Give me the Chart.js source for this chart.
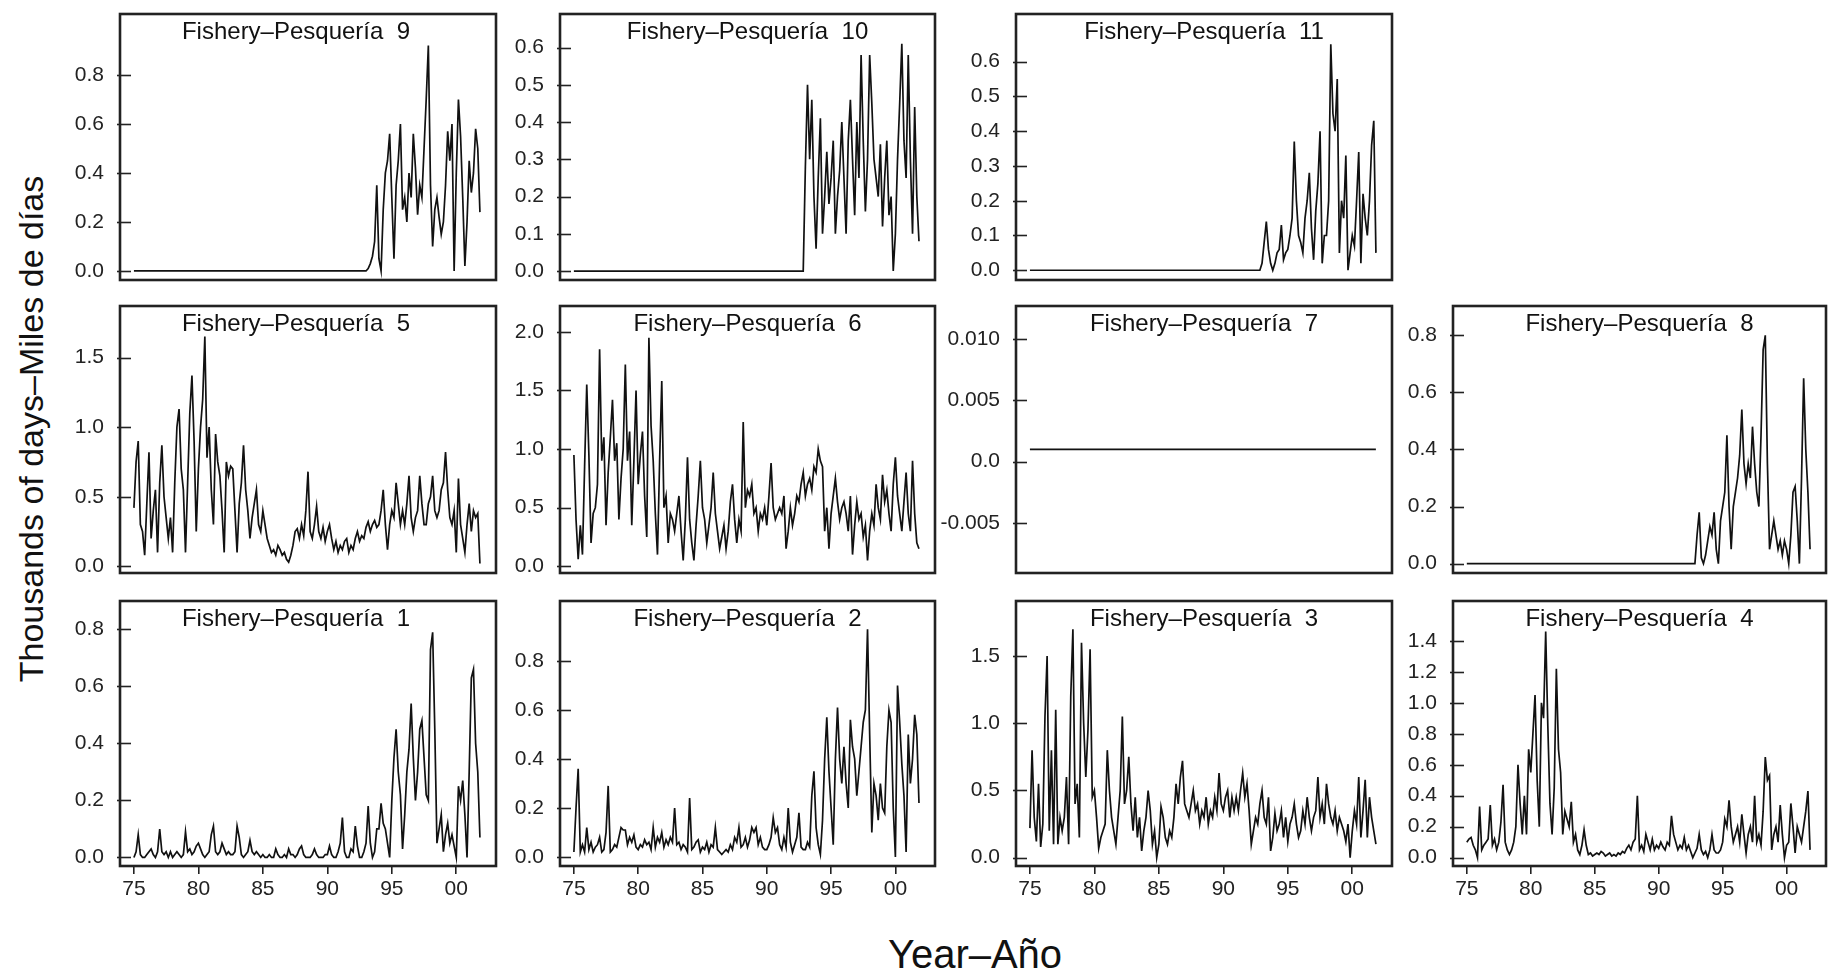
<!DOCTYPE html>
<html>
<head>
<meta charset="utf-8">
<script src="https://cdn.jsdelivr.net/npm/chart.js@4.4.1/dist/chart.umd.min.js"></script>
<style>
  html, body { margin: 0; padding: 0; background: #fff; }
  body { width: 1828px; height: 969px; position: relative; overflow: hidden;
         font-family: "Liberation Sans", Arial, Helvetica, sans-serif; }
  canvas { position: absolute; }
  .ptitle { position: absolute; font-size: 24px; line-height: 24px; color: #111;
            text-align: center; white-space: pre; }
  #xlab { position: absolute; left: 775px; top: 934px; width: 400px; text-align: center;
          font-size: 40px; line-height: 40px; color: #111; }
  #ylab { position: absolute; left: -319px; top: 411px; width: 700px; height: 36px;
          text-align: center; font-size: 34px; line-height: 36px; color: #111;
          transform: rotate(-90deg); white-space: nowrap; }
</style>
</head>
<body>
<div id="xlab">Year–Año</div>
<div id="ylab">Thousands of days–Miles de días</div>
<script>
// years on the axis are written 75..102 (2000 = 100, shown as "00")
const yearStart = 75;
const perYear = 6;               // one value every two months
const xTicks = [75, 80, 85, 90, 95, 100];

// Fishery 1, 1975-2001
const f1 = [
  0, 0.02, 0.08, 0.01, 0, 0,
  0.01, 0.02, 0.03, 0.01, 0, 0.02,
  0.10, 0.02, 0.01, 0.02, 0, 0.02,
  0, 0.01, 0.02, 0.01, 0, 0.01,
  0.09, 0.02, 0.03, 0.01, 0.02, 0.04,
  0.05, 0.03, 0.01, 0, 0.01, 0.02,
  0.08, 0.11, 0.02, 0.01, 0.02, 0.05,
  0.03, 0.01, 0.02, 0.01, 0.01, 0.02,
  0.11, 0.07, 0.01, 0, 0.01, 0.02,
  0.06, 0.02, 0.01, 0.02, 0.01, 0,
  0.01, 0, 0, 0.01, 0, 0,
  0.03, 0.01, 0, 0, 0.01, 0,
  0.03, 0.01, 0.01, 0, 0.01, 0.03,
  0.04, 0.01, 0, 0, 0, 0.01,
  0.03, 0.01, 0, 0, 0, 0.01,
  0.01, 0.04, 0.01, 0, 0, 0.02,
  0.05, 0.14, 0.02, 0, 0, 0.03,
  0.02, 0.11, 0.04, 0, 0, 0.02,
  0.05, 0.18, 0.05, 0, 0.02, 0.10,
  0.10, 0.19, 0.12, 0.10, 0.05, 0,
  0.20, 0.35, 0.45, 0.30, 0.22, 0.03,
  0.15, 0.30, 0.38, 0.54, 0.35, 0.20,
  0.30, 0.45, 0.48, 0.35, 0.22, 0.20,
  0.73, 0.79, 0.45, 0.05, 0.10, 0.15,
  0.02, 0.08, 0.12, 0.05, 0.08, 0.04,
  0, 0.25, 0.20, 0.27, 0.15, 0,
  0.30, 0.63, 0.66, 0.40, 0.30, 0.07
];

// Fishery 2, 1975-2001
const f2 = [
  0.02, 0.20, 0.36, 0.02, 0.05, 0.02,
  0.12, 0.03, 0.06, 0.02, 0.04, 0.05,
  0.08, 0.02, 0.03, 0.10, 0.29, 0.02,
  0.03, 0.05, 0.04, 0.08, 0.12, 0.11,
  0.11, 0.05, 0.08, 0.06, 0.09, 0.04,
  0.03, 0.05, 0.04, 0.07, 0.05, 0.06,
  0.03, 0.12, 0.04, 0.08, 0.06, 0.10,
  0.04, 0.07, 0.05, 0.08, 0.06, 0.20,
  0.05, 0.06, 0.03, 0.05, 0.04, 0.02,
  0.24, 0.03, 0.04, 0.06, 0.07, 0.02,
  0.04, 0.03, 0.06, 0.02, 0.05, 0.04,
  0.12, 0.03, 0.02, 0.01, 0.02, 0.03,
  0.02, 0.05, 0.03, 0.08, 0.06, 0.12,
  0.04, 0.05, 0.08, 0.04, 0.07, 0.12,
  0.10, 0.12, 0.05, 0.08, 0.04, 0.03,
  0.03, 0.05, 0.08, 0.16, 0.10, 0.12,
  0.05, 0.03, 0.08, 0.04, 0.20, 0.06,
  0.02, 0.05, 0.08, 0.18, 0.04, 0.03,
  0.03, 0.06, 0.04, 0.25, 0.35, 0.12,
  0.05, 0.01, 0.15, 0.40, 0.57, 0.35,
  0.20, 0.05, 0.40, 0.61, 0.40, 0.30,
  0.45, 0.30, 0.20, 0.56, 0.45, 0.40,
  0.25, 0.35, 0.45, 0.55, 0.60, 0.93,
  0.50, 0.10, 0.30, 0.25, 0.15, 0.30,
  0.20, 0.18, 0.45, 0.60, 0.55, 0.20,
  0, 0.70, 0.55, 0.38, 0.25, 0.02,
  0.50, 0.30, 0.40, 0.58, 0.50, 0.22
];

// Fishery 3, 1975-2001
const f3 = [
  0.22, 0.80, 0.30, 0.12, 0.55, 0.08,
  0.25, 1.05, 1.50, 0.20, 0.80, 0.10,
  1.10, 0.10, 0.30, 0.20, 0.30, 0.60,
  0.10, 1.20, 1.70, 0.40, 0.55, 0.15,
  1.60, 1.00, 0.60, 0.95, 1.55, 0.45,
  0.50, 0.30, 0.07, 0.15, 0.20, 0.25,
  0.80, 0.50, 0.30, 0.20, 0.10, 0.30,
  0.50, 1.05, 0.40, 0.50, 0.75, 0.40,
  0.20, 0.45, 0.15, 0.30, 0.05, 0.20,
  0.30, 0.50, 0.35, 0.10, 0.20, 0,
  0.10, 0.38, 0.30, 0.15, 0.10, 0.20,
  0.15, 0.30, 0.55, 0.40, 0.60, 0.72,
  0.40, 0.35, 0.30, 0.40, 0.50, 0.35,
  0.40, 0.25, 0.35, 0.30, 0.45, 0.25,
  0.35, 0.30, 0.45, 0.35, 0.63, 0.40,
  0.35, 0.45, 0.50, 0.30, 0.45, 0.35,
  0.45, 0.35, 0.50, 0.63, 0.45, 0.55,
  0.35, 0.10, 0.20, 0.30, 0.25, 0.40,
  0.50, 0.30, 0.25, 0.45, 0.05, 0.15,
  0.33, 0.20, 0.25, 0.35, 0.15, 0.30,
  0.12, 0.25, 0.30, 0.40, 0.25, 0.15,
  0.20, 0.35, 0.25, 0.45, 0.30, 0.20,
  0.30, 0.35, 0.60, 0.30, 0.40, 0.25,
  0.55, 0.40, 0.30, 0.25, 0.35, 0.20,
  0.30, 0.25, 0.20, 0.12, 0.25, 0,
  0.20, 0.35, 0.25, 0.60, 0.15, 0.35,
  0.58, 0.15, 0.45, 0.30, 0.20, 0.10
];

// Fishery 4, 1975-2001
const f4 = [
  0.10, 0.12, 0.13, 0.08, 0.05, 0,
  0.33, 0.05, 0.08, 0.10, 0.12, 0.34,
  0.08, 0.12, 0.05, 0.10, 0.23, 0.47,
  0.10, 0.05, 0.02, 0.05, 0.10, 0.20,
  0.60, 0.35, 0.15, 0.40, 0.15, 0.70,
  0.55, 0.80, 1.05, 0.50, 0.20, 1.00,
  0.90, 1.46, 0.85, 0.35, 0.15, 0.45,
  1.22, 0.70, 0.55, 0.15, 0.30, 0.25,
  0.20, 0.36, 0.10, 0.15, 0.05, 0.02,
  0.08, 0.18, 0.08, 0.02, 0.03, 0.01,
  0.02, 0.03, 0.02, 0.04, 0.03, 0.01,
  0.02, 0.03, 0.01, 0.02, 0.01, 0.03,
  0.02, 0.04, 0.03, 0.06, 0.08, 0.05,
  0.10, 0.12, 0.40, 0.05, 0.08, 0.04,
  0.15, 0.10, 0.05, 0.12, 0.05, 0.08,
  0.06, 0.10, 0.07, 0.05, 0.10, 0.08,
  0.27, 0.15, 0.10, 0.05, 0.08, 0.06,
  0.13, 0.05, 0.08, 0.04, 0, 0.03,
  0.06, 0.15, 0.05, 0.02, 0.04, 0,
  0.05, 0.15, 0.05, 0.03, 0.03, 0.05,
  0.10, 0.25, 0.20, 0.37, 0.20, 0.10,
  0.15, 0.20, 0.10, 0.28, 0.15, 0.03,
  0.15, 0.20, 0.10, 0.40, 0.10, 0.15,
  0.08, 0.30, 0.65, 0.50, 0.53, 0.05,
  0.15, 0.20, 0.10, 0.34, 0.15, 0,
  0.08, 0.10, 0.35, 0.20, 0.03, 0.20,
  0.15, 0.10, 0.20, 0.30, 0.43, 0.05
];

// Fishery 5, 1975-2001
const f5 = [
  0.42, 0.75, 0.90, 0.30, 0.25, 0.08,
  0.45, 0.82, 0.20, 0.40, 0.55, 0.10,
  0.60, 0.87, 0.50, 0.35, 0.20, 0.35,
  0.10, 0.60, 1.00, 1.13, 0.70, 0.55,
  0.10, 0.60, 1.10, 1.37, 0.90, 0.25,
  0.70, 1.00, 1.20, 1.65, 0.78, 1.00,
  0.55, 0.30, 0.95, 0.75, 0.65, 0.40,
  0.10, 0.75, 0.65, 0.72, 0.70, 0.40,
  0.10, 0.45, 0.60, 0.87, 0.55, 0.40,
  0.20, 0.35, 0.45, 0.55, 0.30, 0.25,
  0.40, 0.30, 0.20, 0.15, 0.10, 0.12,
  0.08, 0.15, 0.12, 0.08, 0.10, 0.05,
  0.03, 0.08, 0.15, 0.25, 0.27, 0.20,
  0.30, 0.22, 0.40, 0.68, 0.25, 0.20,
  0.30, 0.43, 0.25, 0.20, 0.28, 0.18,
  0.25, 0.30, 0.20, 0.12, 0.18, 0.10,
  0.15, 0.12, 0.18, 0.20, 0.10, 0.15,
  0.12, 0.20, 0.25, 0.18, 0.22, 0.20,
  0.28, 0.32, 0.25, 0.30, 0.33, 0.28,
  0.30, 0.40, 0.55, 0.30, 0.12, 0.30,
  0.40, 0.35, 0.60, 0.45, 0.30, 0.40,
  0.30, 0.45, 0.65, 0.35, 0.25, 0.35,
  0.40, 0.65, 0.45, 0.30, 0.30, 0.45,
  0.50, 0.65, 0.40, 0.35, 0.40, 0.55,
  0.60, 0.82, 0.55, 0.35, 0.30, 0.40,
  0.10, 0.63, 0.30, 0.20, 0.10, 0.30,
  0.45, 0.25, 0.40, 0.35, 0.38, 0.02
];

// Fishery 6, 1975-2001
const f6 = [
  0.95, 0.40, 0.06, 0.35, 0.10, 0.85,
  1.55, 0.95, 0.20, 0.45, 0.50, 0.70,
  1.85, 0.90, 1.10, 0.35, 0.80, 1.10,
  1.42, 0.90, 1.05, 0.40, 0.75, 1.00,
  1.72, 0.90, 1.15, 0.35, 0.90, 1.50,
  0.70, 0.95, 1.15, 0.60, 0.25, 1.95,
  1.20, 0.90, 0.45, 0.10, 0.90, 1.58,
  0.50, 0.60, 0.20, 0.45, 0.40, 0.30,
  0.45, 0.60, 0.30, 0.05, 0.40, 0.93,
  0.40, 0.20, 0.05, 0.35, 0.60, 0.90,
  0.50, 0.40, 0.20, 0.35, 0.50, 0.80,
  0.45, 0.30, 0.15, 0.25, 0.35, 0.15,
  0.30, 0.55, 0.70, 0.40, 0.20, 0.40,
  0.30, 1.23, 0.50, 0.65, 0.60, 0.70,
  0.45, 0.50, 0.30, 0.45, 0.40, 0.50,
  0.35, 0.60, 0.88, 0.50, 0.40, 0.45,
  0.50, 0.45, 0.60, 0.15, 0.30, 0.50,
  0.35, 0.45, 0.60, 0.55, 0.70, 0.80,
  0.60, 0.70, 0.75, 0.65, 0.85, 0.80,
  1.00, 0.90, 0.85, 0.30, 0.50, 0.15,
  0.45, 0.60, 0.75, 0.55, 0.40, 0.50,
  0.55, 0.45, 0.30, 0.60, 0.10, 0.35,
  0.55, 0.40, 0.45, 0.25, 0.35, 0.05,
  0.30, 0.45, 0.35, 0.70, 0.50, 0.40,
  0.78, 0.55, 0.65, 0.45, 0.30, 0.70,
  0.93, 0.60, 0.45, 0.30, 0.55, 0.80,
  0.45, 0.30, 0.90, 0.45, 0.20, 0.15
];

// Fishery 7: flat all along
const f7Years = [75, 101.83];
const f7 = [0.001, 0.001];

// Fisheries 8-11: zero before the values below, which start mid-1992
const lateStart = 92.5;
const f8 = [
  0, 0, 0,
  0.10, 0.18, 0.02, 0, 0.03, 0.08,
  0.13, 0.10, 0.18, 0.05, 0, 0.15,
  0.20, 0.25, 0.45, 0.20, 0.05, 0.20,
  0.25, 0.30, 0.38, 0.54, 0.35, 0.28,
  0.35, 0.30, 0.48, 0.35, 0.25, 0.20,
  0.45, 0.75, 0.80, 0.35, 0.05, 0.10,
  0.15, 0.10, 0.05, 0.08, 0.03, 0.08,
  0.05, 0, 0.10, 0.25, 0.27, 0.15,
  0, 0.30, 0.65, 0.40, 0.25, 0.05
];
const f9 = [
  0, 0, 0,
  0, 0.01, 0.03, 0.06, 0.12, 0.35,
  0.05, 0, 0.25, 0.40, 0.45, 0.56,
  0.30, 0.05, 0.35, 0.45, 0.60, 0.25,
  0.30, 0.20, 0.40, 0.30, 0.56, 0.42,
  0.23, 0.35, 0.30, 0.50, 0.70, 0.92,
  0.35, 0.10, 0.25, 0.30, 0.22, 0.15,
  0.20, 0.35, 0.57, 0.45, 0.60, 0,
  0.40, 0.70, 0.55, 0.30, 0.02, 0.20,
  0.45, 0.32, 0.40, 0.58, 0.50, 0.24
];
const f10 = [
  0, 0, 0,
  0.28, 0.50, 0.30, 0.46, 0.20, 0.06,
  0.25, 0.41, 0.10, 0.20, 0.32, 0.18,
  0.25, 0.35, 0.10, 0.20, 0.27, 0.40,
  0.25, 0.10, 0.35, 0.46, 0.30, 0.15,
  0.40, 0.25, 0.58, 0.35, 0.16, 0.30,
  0.58, 0.45, 0.30, 0.25, 0.20, 0.34,
  0.12, 0.25, 0.35, 0.15, 0.20, 0,
  0.10, 0.30, 0.45, 0.61, 0.35, 0.25,
  0.58, 0.30, 0.10, 0.44, 0.20, 0.08
];
const f11 = [
  0, 0, 0,
  0.02, 0.08, 0.14, 0.06, 0.02, 0,
  0.02, 0.05, 0.06, 0.13, 0.03, 0.05,
  0.06, 0.10, 0.15, 0.37, 0.20, 0.10,
  0.08, 0.05, 0.15, 0.20, 0.28, 0.12,
  0.03, 0.17, 0.25, 0.40, 0.02, 0.10,
  0.10, 0.20, 0.65, 0.45, 0.40, 0.55,
  0.05, 0.20, 0.15, 0.33, 0, 0.05,
  0.10, 0.07, 0.20, 0.34, 0.02, 0.22,
  0.15, 0.10, 0.20, 0.36, 0.43, 0.05
];

// y tick values per panel
const ticks02 = [0, 0.2, 0.4, 0.6, 0.8];
const ticks01 = [0, 0.1, 0.2, 0.3, 0.4, 0.5, 0.6];
const ticks05 = [0, 0.5, 1, 1.5];
const ticks6 = [0, 0.5, 1, 1.5, 2];
const ticks4 = [0, 0.2, 0.4, 0.6, 0.8, 1, 1.2, 1.4];
const ticks7 = [-0.005, 0, 0.005, 0.01];

function series(vals, start) {
  const pts = [];
  if (start > yearStart) pts.push({ x: yearStart, y: 0 });
  vals.forEach((v, i) => pts.push({ x: start + i / perYear, y: v }));
  return pts;
}

// panel frame positions on the page
const colL = [120, 560, 1016, 1453];
const colR = [496, 935, 1392, 1826];
const rowT = [14, 306, 601];
const rowB = [280, 573, 866];
const titleShift = [-12, 0, 0, 0];   // left column titles sit a little left of centre

const panels = [
  { n: 9,  col: 0, row: 0, pts: series(f9, lateStart),  yMin: -0.037, yMax: 1.049, ticks: ticks02, dec: 1 },
  { n: 10, col: 1, row: 0, pts: series(f10, lateStart), yMin: -0.024, yMax: 0.69,  ticks: ticks01, dec: 1 },
  { n: 11, col: 2, row: 0, pts: series(f11, lateStart), yMin: -0.028, yMax: 0.737, ticks: ticks01, dec: 1 },
  { n: 5,  col: 0, row: 1, pts: series(f5, yearStart),  yMin: -0.048, yMax: 1.87,  ticks: ticks05, dec: 1 },
  { n: 6,  col: 1, row: 1, pts: series(f6, yearStart),  yMin: -0.057, yMax: 2.22,  ticks: ticks6,  dec: 1 },
  { n: 7,  col: 2, row: 1, pts: f7.map((v, i) => ({ x: f7Years[i], y: v })),
                                                        yMin: -0.0091, yMax: 0.0127, ticks: ticks7, dec: 3 },
  { n: 8,  col: 3, row: 1, pts: series(f8, lateStart),  yMin: -0.033, yMax: 0.903, ticks: ticks02, dec: 1 },
  { n: 1,  col: 0, row: 2, pts: series(f1, yearStart),  yMin: -0.03,  yMax: 0.90,  ticks: ticks02, dec: 1 },
  { n: 2,  col: 1, row: 2, pts: series(f2, yearStart),  yMin: -0.037, yMax: 1.045, ticks: ticks02, dec: 1 },
  { n: 3,  col: 2, row: 2, pts: series(f3, yearStart),  yMin: -0.062, yMax: 1.91,  ticks: ticks05, dec: 1 },
  { n: 4,  col: 3, row: 2, pts: series(f4, yearStart),  yMin: -0.054, yMax: 1.657, ticks: ticks4,  dec: 1 }
];

const axisFont = { family: '"Liberation Sans", Arial, sans-serif', size: 21 };
const inkColor = '#222';

// box round the plot area plus short inward y ticks
const framePlugin = {
  id: 'frame',
  afterDraw(chart) {
    const { ctx, chartArea: a } = chart;
    const y = chart.scales.y;
    ctx.save();
    ctx.strokeStyle = inkColor;
    ctx.lineWidth = 1.6;
    y.ticks.forEach(t => {
      const py = Math.round(y.getPixelForValue(t.value)) + 0.5;
      ctx.beginPath();
      ctx.moveTo(a.left - 3, py);
      ctx.lineTo(a.left + 11, py);
      ctx.stroke();
    });
    ctx.lineWidth = 2.6;
    ctx.strokeRect(a.left, a.top, a.right - a.left, a.bottom - a.top);
    ctx.restore();
  }
};

// room kept round each plot area inside its canvas
const LEFT = 80, PADV = 18, PADR = 3, XAXIS = 40;

panels.forEach(p => {
  const L = colL[p.col], R = colR[p.col], T = rowT[p.row], B = rowB[p.row];
  const bottomRow = p.row === 2;
  const cv = document.createElement('canvas');
  const w = (R - L) + LEFT + PADR;
  const h = (B - T) + PADV + (bottomRow ? XAXIS : PADV);
  cv.width = w; cv.height = h;
  cv.style.left = (L - LEFT) + 'px';
  cv.style.top = (T - PADV) + 'px';
  cv.style.width = w + 'px'; cv.style.height = h + 'px';
  document.body.appendChild(cv);

  const title = document.createElement('div');
  title.className = 'ptitle';
  title.style.left = (L + titleShift[p.col]) + 'px';
  title.style.width = (R - L) + 'px';
  title.style.top = (T + 5) + 'px';
  title.textContent = 'Fishery–Pesquería  ' + p.n;
  document.body.appendChild(title);

  new Chart(cv, {
    type: 'line',
    data: {
      datasets: [{
        data: p.pts,
        borderColor: '#111',
        borderWidth: 1.7,
        pointRadius: 0,
        tension: 0,
        fill: false
      }]
    },
    options: {
      responsive: false,
      animation: false,
      events: [],
      layout: {
        padding: { left: 0, top: PADV, right: PADR, bottom: bottomRow ? 0 : PADV }
      },
      plugins: { legend: { display: false }, tooltip: { enabled: false } },
      scales: {
        x: {
          type: 'linear',
          min: 73.92,
          max: 103.08,
          display: bottomRow,
          grid: { display: true, drawOnChartArea: false, drawTicks: true, tickLength: 8,
                  color: inkColor, lineWidth: 1.6 },
          border: { display: false },
          ticks: {
            font: axisFont, color: inkColor, padding: 3, autoSkip: false, maxRotation: 0,
            callback: v => (v === 100 ? '00' : String(v))
          },
          afterBuildTicks: s => { s.ticks = xTicks.map(v => ({ value: v })); },
          afterFit: s => { if (bottomRow) s.height = XAXIS; }
        },
        y: {
          type: 'linear',
          min: p.yMin,
          max: p.yMax,
          // tick marks are drawn by the frame plugin; tickLength only sets the label gap
          grid: { display: false, drawTicks: true, tickLength: 16 },
          border: { display: false },
          ticks: {
            font: axisFont, color: inkColor, padding: 0, autoSkip: false,
            callback: v => (v === 0 ? '0.0' : v.toFixed(p.dec))
          },
          afterBuildTicks: s => { s.ticks = p.ticks.map(v => ({ value: v })); },
          afterFit: s => { s.width = LEFT; }
        }
      }
    },
    plugins: [framePlugin]
  });
});
</script>
</body>
</html>
